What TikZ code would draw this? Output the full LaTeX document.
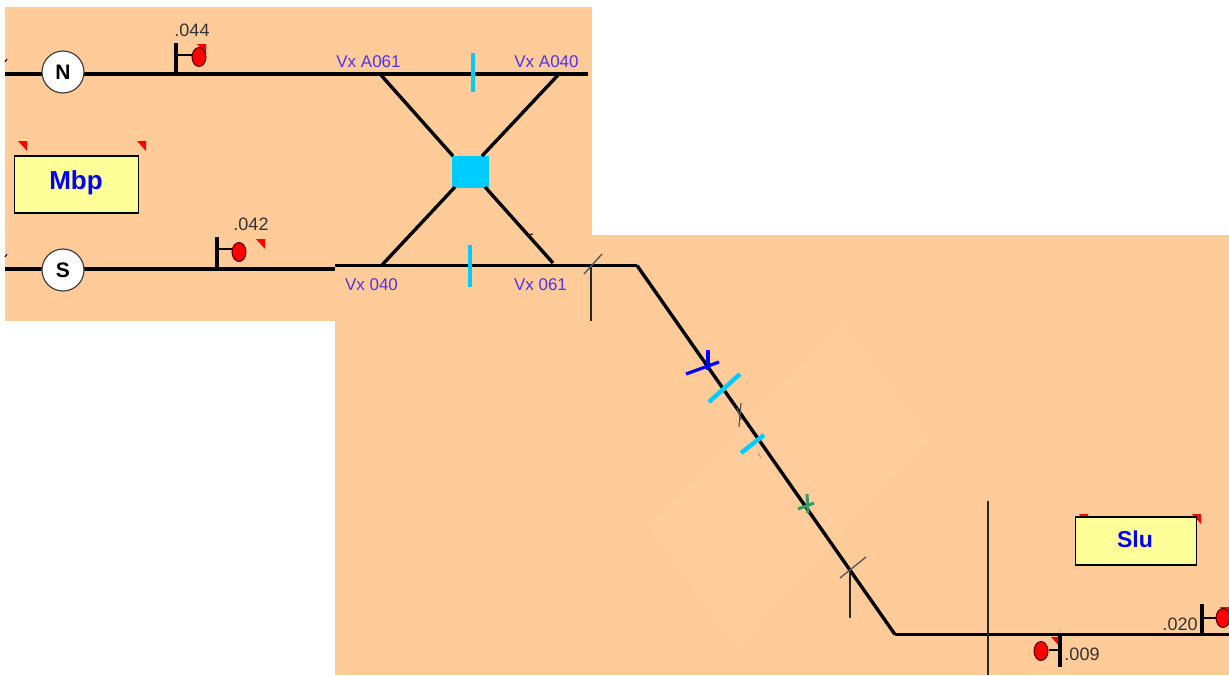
\documentclass[tikz,border=0pt]{standalone}
\usepackage{fontspec}
\setmainfont{Liberation Sans}
\usepackage{xcolor}
\usetikzlibrary{shapes,positioning}
\definecolor{yardbg}{HTML}{FFCC99}
\definecolor{yardfaint}{HTML}{FFCD9B}
\definecolor{plate}{HTML}{FFFF99}
\definecolor{sky}{HTML}{00CCFF}
\definecolor{vxtext}{HTML}{4F33E6}
\definecolor{grn}{HTML}{339966}
\tikzset{track/.style={line width=3.4pt,black},
  thin track/.style={line width=1.5pt,black!85},
  mast/.style={line width=3.2pt,black},
  arm/.style={line width=2.6pt,black},
  isol/.style={line width=4.4pt,sky},
  lamp/.style={ellipse,draw=black!70!red,fill=red,line width=1pt,minimum width=14pt,minimum height=19pt,inner sep=0pt},
  stn/.style={circle,draw=black!75,fill=white,line width=1.2pt,minimum size=42pt,inner sep=0pt,font=\bfseries\fontsize{21}{21}\selectfont},
  plate box/.style={draw=black,fill=plate,line width=1.2pt,inner sep=0pt},
  plate text/.style={text=blue,inner sep=0pt},
  num/.style={text=black!80,font=\fontsize{18}{18}\selectfont,inner sep=0pt},
  vx/.style={text=vxtext,font=\fontsize{17}{17}\selectfont,inner sep=0pt}}
\newcommand{\redflag}[2]{\fill[red] (#1,#2) -- ++(9,0) -- ++(0,10) -- cycle;}

\begin{document}
\begin{tikzpicture}[x=1pt,y=-1pt]
    \useasboundingbox (0,0) rectangle (1229,675);
    \clip (0,0) rectangle (1229,675);
    % background sheets
    \fill[yardbg] (5,7) rectangle (592,321);
    \fill[yardbg] (335,235) rectangle (1229,675);
    \fill[yardfaint] (842,322) -- (928,438) -- (737,647) -- (650,527) -- cycle;

    % north line
    \coordinate (nw) at (5,74);
    \coordinate (ne) at (588,74);
    \coordinate (va61) at (380,74);
    \coordinate (va40) at (559,74);
    \coordinate (m44) at (176,74);
    \path[track] (nw) edge (ne);
    \node[stn] (n) at (63,72) {N};

    % south line
    \coordinate (sw) at (5,269);
    \coordinate (sm) at (335,269);
    \coordinate (sa) at (335,265.5);
    \coordinate (v40) at (382,265);
    \coordinate (v61) at (553,263);
    \coordinate (bend1) at (637,265.5);
    \coordinate (bend2) at (895,634.5);
    \coordinate (se) at (1229,634.5);
    \coordinate (m42) at (217,269);
    \path[track] (sw) edge (sm)
        (sa) edge (bend1)
        (bend1) edge (bend2)
        (bend2) edge (se);
    \node[stn] (s) at (63,270) {S};

    % crossing
    \node[fill=sky,minimum width=37pt,minimum height=32pt,inner sep=0pt] (x) at (470,171.5) {};
    \coordinate (xnw) at (453,156);
    \coordinate (xne) at (482,156);
    \coordinate (xsw) at (455,187);
    \coordinate (xse) at (485,187);
    \path[track] (va61) edge (xnw)
        (va40) edge (xne)
        (v40) edge (xsw)
        (v61) edge (xse);

    % isolations
    \coordinate (i1a) at (473,53);
    \coordinate (i1b) at (473,92);
    \coordinate (i2a) at (470,245);
    \coordinate (i2b) at (470,287);
    \coordinate (i3a) at (709,402);
    \coordinate (i3b) at (740,374);
    \coordinate (i4a) at (741,453);
    \coordinate (i4b) at (764,435);
    \path[isol] (i1a) edge (i1b)
        (i2a) edge (i2b)
        (i3a) edge (i3b)
        (i4a) edge (i4b);

    % labels at the crossing
    \node[vx] (l1) at (368.5,62) {Vx A061};
    \node[vx] (l2) at (546.5,62) {Vx A040};
    \node[vx] (l3) at (371.5,285) {Vx 040};
    \node[vx] (l4) at (540.5,285) {Vx 061};

    % signal .044
    \coordinate (m44t) at (176,43);
    \coordinate (a44) at (176,55);
    \redflag{197}{44}
    \node[lamp] (r44) at (199,57) {};
    \path[mast] (m44) edge (m44t);
    \path[arm] (a44) edge (a44 -| r44.west);
    \node[num] (t44) at (192,30) {.044};

    % signal .042
    \coordinate (m42t) at (217,237);
    \coordinate (a42) at (217,249);
    \redflag{256}{239}
    \node[lamp] (r42) at (239,252) {};
    \path[mast] (m42) edge (m42t);
    \path[arm] (a42) edge (a42 -| r42.west);
    \node[num] (t42) at (251,224) {.042};

    % signal .009
    \coordinate (m09) at (1060,634);
    \coordinate (m09b) at (1060,667);
    \coordinate (a09) at (1060,650);
    \redflag{1051}{637}
    \node[lamp] (r09) at (1041,651) {};
    \path[mast] (m09) edge (m09b);
    \path[arm] (a09) edge (a09 -| r09.east);
    \node[num] (t09) at (1082,654) {.009};

    % signal .020
    \coordinate (m20) at (1202,634);
    \coordinate (m20t) at (1202,604);
    \coordinate (a20) at (1202,618);
    \redflag{1220}{607}
    \node[lamp] (r20) at (1223,618) {};
    \path[mast] (m20) edge (m20t);
    \path[arm] (a20) edge (a20 -| r20.west);
    \node[num] (t20) at (1180,624) {.020};

    % name plates
    \redflag{18}{141}
    \redflag{137}{141}
    \node[plate box,minimum width=124pt,minimum height=57pt] (mbp) at (76.5,184.5) {};
    \node[plate text,font=\bfseries\fontsize{26}{26}\selectfont] (mbpt) at (76,182.5) {Mbp};
    \redflag{1079}{514}
    \redflag{1192}{514}
    \node[plate box,minimum width=121pt,minimum height=48pt] (slu) at (1136,541) {};
    \node[plate text,font=\bfseries\fontsize{23}{23}\selectfont] (slut) at (1135,539) {Slu};

    % section marks
    \coordinate (c1a) at (584,274);
    \coordinate (c1b) at (602,254);
    \coordinate (c1c) at (591,265);
    \coordinate (c1d) at (591,321);
    \coordinate (c2a) at (840,578);
    \coordinate (c2b) at (866,557);
    \coordinate (c2c) at (850,569);
    \coordinate (c2d) at (850,618);
    \coordinate (c3a) at (988,501);
    \coordinate (c3b) at (988,675);
    \path[thin track] (c1c) edge (c1d)
        (c2c) edge (c2d)
        (c3a) edge (c3b);
    \path[line width=1.4pt,black!65] (c1a) edge (c1b)
        (c2a) edge (c2b);

    % coloured joints on the slope
    \coordinate (b1) at (708,350);
    \coordinate (b2) at (708,370);
    \coordinate (b3) at (686,374);
    \coordinate (b4) at (719,362);
    \path[line width=3.2pt,blue] (b1) edge (b2)
        (b3) edge (b4);
    \coordinate (g1) at (807,494);
    \coordinate (g2) at (808,513);
    \coordinate (g3) at (798,509);
    \coordinate (g4) at (814,503);
    \path[line width=3pt,grn] (g1) edge (g2)
        (g3) edge (g4);
    \coordinate (k1) at (741,403);
    \coordinate (k2) at (739,427);
    \coordinate (k3) at (737,408);
    \coordinate (k4) at (741,420);
    \path[line width=1.2pt,black!65] (k1) edge (k2)
        (k3) edge (k4);

    % small stray marks
    \coordinate (d1) at (758,453);
    \coordinate (d2) at (761,458);
    \coordinate (d3) at (526,235);
    \coordinate (d4) at (533,234);
    \coordinate (d5) at (5,62);
    \coordinate (d6) at (7,59);
    \coordinate (d7) at (5,257);
    \coordinate (d8) at (7,254);
    \path[line width=0.5pt,black!50] (d1) edge (d2);
    \path[line width=1pt,black] (d3) edge (d4)
        (d5) edge (d6)
        (d7) edge (d8);
\end{tikzpicture}
\end{document}
